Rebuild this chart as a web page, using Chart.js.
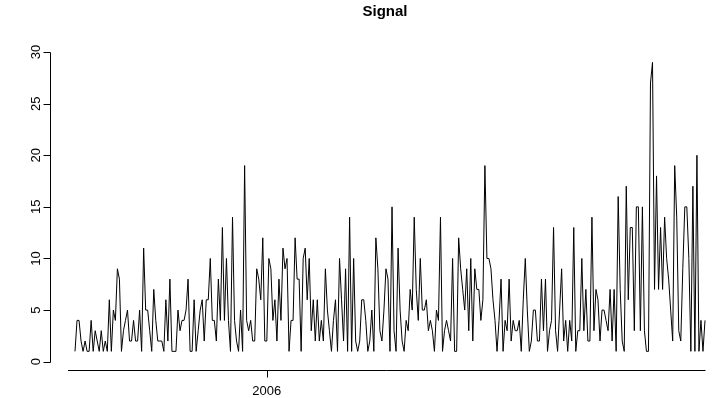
<!DOCTYPE html>
<html>
<head>
<meta charset="utf-8">
<script src="https://cdn.jsdelivr.net/npm/chart.js@4.4.1/dist/chart.umd.min.js"></script>
<style>
  html, body { margin: 0; padding: 0; background: #fff; }
  #wrap { width: 721px; height: 398px; }
</style>
</head>
<body>
<div id="wrap"><canvas id="c" width="721" height="398"></canvas></div>
<script>
// signal values left to right
const signal = [
  1,4,4,2,1,2,1,1,4,1,3,2,1,3,1,2,1,6,1,5,4,9,8,
  1,3,4,5,2,2,4,2,2,5,1,11,5,5,3,1,7,4,2,2,2,1,6,2,8,1,1,
  1,5,3,4,4,5,8,1,1,6,1,3,5,6,2,6,6,10,4,4,2,8,4,13,4,10,4,1,
  14,4,2,1,5,1,19,4,3,4,2,2,9,8,6,12,2,2,10,9,4,6,2,8,4,11,
  9,10,1,4,4,12,8,8,1,10,11,6,10,3,6,2,6,2,4,2,9,5,3,1,4,6,1,
  10,6,2,9,1,14,1,10,2,1,2,6,6,4,1,2,5,1,12,9,3,2,5,9,8,1,15,
  3,1,11,5,2,1,4,3,7,5,14,7,4,10,5,5,6,3,4,3,1,5,4,14,1,3,
  4,3,2,10,1,1,12,9,7,5,9,3,10,2,9,7,7,4,6,19,10,10,9,6,4,1,4,
  8,1,4,3,8,2,4,3,3,4,1,6,10,5,1,2,5,5,2,2,8,3,8,1,3,4,13,
  3,1,5,9,2,4,1,4,2,13,1,3,3,10,3,7,2,2,14,3,7,6,2,5,5,4,
  3,7,2,7,1,16,7,2,1,17,6,13,13,3,15,15,3,15,3,1,1,27,29,7,18,7,
  13,7,14,10,8,5,2,19,14,3,2,9,15,15,10,1,17,1,20,1,4,1,4
];
const yTicks = [0, 5, 10, 15, 20, 25, 30];
const xTickLabels = ['2006'];
const xTickIndex = [95];   // observation where the year changes
const title = 'Signal';

const N = signal.length;
const pts = signal.map((v, i) => ({x: i, y: v}));

// data spans 75..705 px, plot region 50..721
const pxPer = 630 / (N - 1);
const xMin = -25 / pxPer;
const xMax = (N - 1) + 16 / pxPer;

const rAxes = {
  id: 'rAxes',
  afterDraw(chart) {
    const ctx = chart.ctx;
    const xs = chart.scales.x, ys = chart.scales.y;
    ctx.save();
    ctx.strokeStyle = '#000';
    ctx.fillStyle = '#000';
    ctx.lineWidth = 1;
    ctx.font = '13px "Liberation Sans", Arial, sans-serif';

    // y axis
    const ax = 50.5;
    ctx.beginPath();
    ctx.moveTo(ax, Math.round(ys.getPixelForValue(yTicks[0])) + 0.5);
    ctx.lineTo(ax, Math.round(ys.getPixelForValue(yTicks[yTicks.length - 1])) + 0.5);
    yTicks.forEach(t => {
      const py = Math.round(ys.getPixelForValue(t)) + 0.5;
      ctx.moveTo(ax, py);
      ctx.lineTo(ax - 7, py);
    });
    ctx.stroke();
    ctx.textAlign = 'center';
    ctx.textBaseline = 'middle';
    yTicks.forEach(t => {
      const py = ys.getPixelForValue(t);
      ctx.save();
      ctx.translate(36, py);
      ctx.rotate(-Math.PI / 2);
      ctx.fillText(String(t), 0, 0);
      ctx.restore();
    });

    // x axis
    const ay = 370.5;
    ctx.beginPath();
    ctx.moveTo(68, ay);
    ctx.lineTo(Math.round(xs.getPixelForValue(N - 1)) + 0.5, ay);
    xTickIndex.forEach(i => {
      const px = Math.round(xs.getPixelForValue(i)) + 0.5;
      ctx.moveTo(px, ay);
      ctx.lineTo(px, ay + 7);
    });
    ctx.stroke();
    ctx.textBaseline = 'alphabetic';
    xTickIndex.forEach((i, k) => {
      ctx.fillText(xTickLabels[k], xs.getPixelForValue(i), 395);
    });

    // title
    ctx.font = 'bold 15px "Liberation Sans", Arial, sans-serif';
    ctx.fillText(title, 385, 16);
    ctx.restore();
  }
};

new Chart(document.getElementById('c'), {
  type: 'line',
  data: {
    datasets: [{
      data: pts,
      borderColor: '#000',
      borderWidth: 1,
      pointRadius: 0,
      tension: 0,
      fill: false
    }]
  },
  options: {
    responsive: false,
    animation: false,
    devicePixelRatio: 1,
    layout: { padding: { left: 50, right: 0, top: 50, bottom: 26 } },
    plugins: { legend: { display: false }, tooltip: { enabled: false } },
    scales: {
      x: { type: 'linear', min: xMin, max: xMax, display: false },
      y: { type: 'linear', min: -1, max: 30.2, display: false }
    }
  },
  plugins: [rAxes]
});
</script>
</body>
</html>
